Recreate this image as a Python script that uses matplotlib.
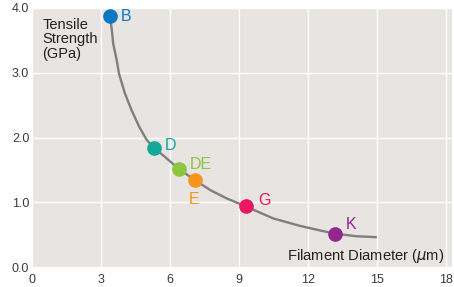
import matplotlib
matplotlib.use("Agg")
import matplotlib.pyplot as plt

plt.rcParams['font.family'] = ['Liberation Sans', 'DejaVu Sans']

# Fitted curve
curve_x = [3.39, 3.47, 3.53, 3.68, 3.78, 4.04, 4.33, 4.67, 4.99, 5.28, 5.78, 6.40,
           7.09, 7.74, 8.46, 9.30, 10.49, 11.65, 12.52, 13.17, 14.12, 14.99]
curve_y = [3.87, 3.66, 3.45, 3.20, 2.99, 2.68, 2.42, 2.16, 1.96, 1.85, 1.70, 1.51,
           1.34, 1.19, 1.06, 0.935, 0.75, 0.635, 0.565, 0.515, 0.475, 0.46]

# Fibre points
names = ['B', 'D', 'DE', 'E', 'G', 'K']
diam = [3.39, 5.29, 6.40, 7.09, 9.30, 13.17]
strength = [3.87, 1.84, 1.51, 1.34, 0.935, 0.51]
colors = ['#0a78c2', '#12a89a', '#8dc63f', '#f7941d', '#ec1661', '#93278f']
label_x = [3.87, 5.78, 6.87, 7.04, 9.83, 13.65]
label_y = [3.87, 1.88, 1.59, 1.05, 1.02, 0.66]
label_ha = ['left', 'left', 'left', 'center', 'left', 'left']

xticks = [0, 3, 6, 9, 12, 15, 18]
yticks = [0, 1, 2, 3, 4]
ytick_labels = ['0.0', '1.0', '2.0', '3.0', '4.0']

fig = plt.figure(figsize=(4.54, 2.87), dpi=100)
ax = fig.add_axes([32/454, 1-267/287, 420/454, 259/287])
ax.set_facecolor('#e7e4e1')
ax.set_xlim(0, 18.26)
ax.set_ylim(0, 4.0)
ax.set_xticks(xticks)
ax.set_yticks(yticks)
ax.set_yticklabels(ytick_labels)
ax.grid(True, color='white', linewidth=1.0)
ax.set_axisbelow(True)
for s in ax.spines.values():
    s.set_visible(False)
ax.tick_params(axis='both', length=0, labelsize=9, colors='#3a3a3a')
ax.tick_params(axis='x', pad=5)
ax.tick_params(axis='y', pad=2)

ax.plot(curve_x, curve_y, color='#7f7f7f', linewidth=1.7, solid_capstyle='butt',
        solid_joinstyle='round', zorder=2)
for x, y, c in zip(diam, strength, colors):
    ax.plot([x], [y], 'o', color=c, markersize=9.5, zorder=3, clip_on=False)
for n, lx, ly, c, ha in zip(names, label_x, label_y, colors, label_ha):
    ax.text(lx, ly, n, color=c, fontsize=11.5, ha=ha, va='center')

ax.text(0.45, 3.85, 'Tensile\nStrength\n(GPa)', fontsize=10.5, color='#222222',
        ha='left', va='top', linespacing=1.05)
ax.text(11.08, 0.17, 'Filament Diameter ($\\mu$m)', fontsize=10.6, color='#222222',
        ha='left', va='center')

fig.savefig('out.png', dpi=100)
